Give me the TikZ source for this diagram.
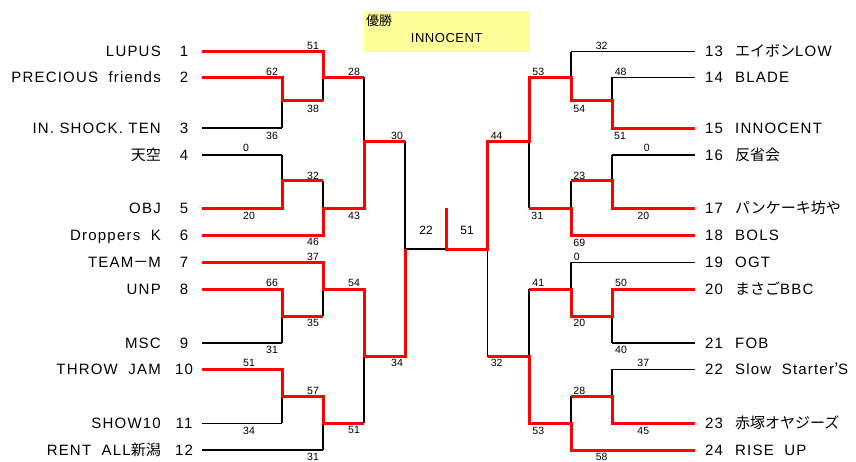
\documentclass[tikz,border=0pt]{standalone}
\usepackage{fontspec}
\setmainfont{Liberation Sans}[LetterSpace=8]
\newfontfamily\jp{Noto Sans CJK JP}
\newfontfamily\numf{Liberation Sans}
\newfontfamily\boxf{Liberation Sans}[LetterSpace=4]
\newcommand{\wsp}{\hspace{0.7em}}
\begin{document}
\begin{tikzpicture}[x=1pt,y=-1pt,
  blk/.style={line width=1.6pt,black},
  win/.style={line width=3pt,red},
  nmL/.style={anchor=base east,inner sep=0pt,font=\fontsize{15}{15}\selectfont},
  nmR/.style={anchor=base west,inner sep=0pt,font=\fontsize{15}{15}\selectfont},
  seed/.style={anchor=base,inner sep=0pt,font=\fontsize{15}{15}\selectfont},
  sc/.style={inner sep=0pt,font=\numf\fontsize{10.5}{10.5}\selectfont},
  scbig/.style={inner sep=0pt,font=\numf\fontsize{12}{12}\selectfont}]
\useasboundingbox (0,0) rectangle (856,461);
% columns
\coordinate (cA) at (202,0);
\coordinate (cB) at (282,0);
\coordinate (cC) at (323,0);
\coordinate (cD) at (364,0);
\coordinate (cE) at (405,0);
\coordinate (cF) at (446,0);
\coordinate (cG) at (487.5,0);
\coordinate (cH) at (529,0);
\coordinate (cI) at (571,0);
\coordinate (cJ) at (612,0);
\coordinate (cK) at (695,0);
% rows
\foreach \n/\y in {r1/51.5,r2/77.3,r3/128,r4/155,r5/208.3,r6/235,r7/262.3,r8/289.3,r9/342.7,r10/369.3,r11/423.3,r12/450,mA/100.7,mB/180.7,mC/316,mD/396,qA/141,qB/356.7,fin/249}
  \coordinate (\n) at (0,\y);
% winner box
\node[fill={rgb,255:red,255;green,255;blue,153},inner sep=0pt,minimum width=166pt,minimum height=40.7pt,anchor=north west] (box) at (364,11) {};
\node[anchor=west,inner sep=0pt,font=\jp\fontsize{13}{13}\selectfont] (yusho) at (366,20.7) {優勝};
\node[inner sep=0pt,font=\boxf\fontsize{13}{13}\selectfont] (champ) at (446.7,38.3) {INNOCENT};
% black structure (both sides)
\foreach \A/\B/\C/\D/\E in {cA/cB/cC/cD/cE,cK/cJ/cI/cH/cG}{
  \draw[blk] (\A|-r1)--(\C|-r1);
  \draw[blk] (\A|-r2)--(\B|-r2);
  \draw[blk] (\A|-r3)--(\B|-r3);
  \draw[blk] (\A|-r4)--(\B|-r4);
  \draw[blk] (\A|-r5)--(\B|-r5);
  \draw[blk] (\A|-r6)--(\C|-r6);
  \draw[blk] (\A|-r7)--(\C|-r7);
  \draw[blk] (\A|-r8)--(\B|-r8);
  \draw[blk] (\A|-r9)--(\B|-r9);
  \draw[blk] (\A|-r10)--(\B|-r10);
  \draw[blk] (\A|-r11)--(\B|-r11);
  \draw[blk] (\A|-r12)--(\C|-r12);
  \draw[blk] (\B|-r2)--(\B|-r3) (\B|-mA)--(\C|-mA) (\C|-r1)--(\C|-mA) (\C|-r2)--(\D|-r2);
  \draw[blk] (\B|-r4)--(\B|-r5) (\B|-mB)--(\C|-mB) (\C|-mB)--(\C|-r6) (\C|-r5)--(\D|-r5);
  \draw[blk] (\D|-r2)--(\D|-r5) (\D|-qA)--(\E|-qA);
  \draw[blk] (\B|-r8)--(\B|-r9) (\B|-mC)--(\C|-mC) (\C|-r7)--(\C|-mC) (\C|-r8)--(\D|-r8);
  \draw[blk] (\B|-r10)--(\B|-r11) (\B|-mD)--(\C|-mD) (\C|-mD)--(\C|-r12) (\C|-r11)--(\D|-r11);
  \draw[blk] (\D|-r8)--(\D|-r11) (\D|-qB)--(\E|-qB);
  \draw[blk] (\E|-qA)--(\E|-qB);
}
\draw[blk] (cE|-fin)--(cF|-fin);
% winners, left
\draw[win] (cA|-r1)--(cC|-r1)--(cC|-r2)--(cD|-r2);
\draw[win] (cA|-r2)--(cB|-r2)--(cB|-mA)--(cC|-mA);
\draw[win] (cA|-r5)--(cB|-r5)--(cB|-mB)--(cC|-mB);
\draw[win] (cA|-r6)--(cC|-r6)--(cC|-r5)--(cD|-r5)--(cD|-qA)--(cE|-qA);
\draw[win] (cA|-r7)--(cC|-r7)--(cC|-r8)--(cD|-r8)--(cD|-qB)--(cE|-qB)--(cE|-fin);
\draw[win] (cA|-r8)--(cB|-r8)--(cB|-mC)--(cC|-mC);
\draw[win] (cA|-r10)--(cB|-r10)--(cB|-mD)--(cC|-mD)--(cC|-r11)--(cD|-r11);
% winners, right
\draw[win] (cK|-r3)--(cJ|-r3)--(cJ|-mA)--(cI|-mA)--(cI|-r2)--(cH|-r2)--(cH|-qA)--(cG|-qA)--(cG|-fin)--(cF|-fin)--(cF|-r5);
\draw[win] (cK|-r5)--(cJ|-r5)--(cJ|-mB)--(cI|-mB);
\draw[win] (cK|-r6)--(cI|-r6)--(cI|-r5)--(cH|-r5);
\draw[win] (cK|-r8)--(cJ|-r8)--(cJ|-mC)--(cI|-mC)--(cI|-r8)--(cH|-r8);
\draw[win] (cK|-r11)--(cJ|-r11)--(cJ|-mD)--(cI|-mD);
\draw[win] (cK|-r12)--(cI|-r12)--(cI|-r11)--(cH|-r11)--(cH|-qB)--(cG|-qB);
% team names and seeds, left
\foreach \i/\y/\t in {1/51.5/LUPUS,2/77.3/PRECIOUS\wsp friends,3/128/IN. SHOCK. TEN,4/155/{\jp 天空},5/208.3/OBJ,6/235/Droppers\wsp K,7/262.3/TEAM{\jp －}M,8/289.3/UNP,9/342.7/MSC,10/369.3/THROW\wsp JAM,11/423.3/SHOW10,12/450/RENT\wsp ALL{\jp 新潟}}{
  \node[nmL] (n\i) at (161,\y+5.4) {\t};
  \node[seed] (s\i) at (184,\y+5.4) {\i};
}
% team names and seeds, right
\foreach \i/\y/\t in {13/51.5/{\jp エイボン}LOW,14/77.3/BLADE,15/128/INNOCENT,16/155/{\jp 反省会},17/208.3/{\jp パンケーキ坊や},18/235/BOLS,19/262.3/OGT,20/289.3/{\jp まさご}BBC,21/342.7/FOB,22/369.3/Slow\wsp Starter{\jp ’}S,23/423.3/{\jp 赤塚オヤジーズ},24/450/RISE\wsp UP}{
  \node[nmR] (n\i) at (735,\y+5.4) {\t};
  \node[seed] (s\i) at (714,\y+5.4) {\i};
}
% scores, left
\foreach \k/\x/\y/\v in {1/313/45.7/51,2/272/71.7/62,3/313/109/38,4/272/135.7/36,5/354/72/28,6/246/148/0,7/313/175.7/32,8/249/215.7/20,9/354/215.7/43,10/397/136/30,11/313/242.3/46,12/313/256.7/37,13/272/283.3/66,14/354/283.3/54,15/313/323.3/35,16/272/350/31,17/397/363.3/34,18/249/363.3/51,19/313/390.7/57,20/249/430.7/34,21/354/430/51,22/313/457.3/31}
  \node[sc] (pl\k) at (\x,\y) {\v};
% scores, right
\foreach \k/\x/\y/\v in {1/601.7/45.7/32,2/620.7/71.7/48,3/579.3/109/54,4/620/135.7/51,5/538.3/71.7/53,6/496.7/136/44,7/646.7/148.3/0,8/579.3/175.7/23,9/643.3/215.7/20,10/537.3/215.7/31,11/579.3/243.3/69,12/576.7/256.7/0,13/621/283.3/50,14/538.3/283.3/41,15/579.3/323.3/20,16/621/350/40,17/643.3/363.3/37,18/496.7/363.3/32,19/579.3/390.7/28,20/643.3/430.7/45,21/538.3/430.7/53,22/601.7/457.3/58}
  \node[sc] (pr\k) at (\x,\y) {\v};
% final scores
\node[scbig] (f1) at (426,230) {22};
\node[scbig] (f2) at (467,230) {51};
\end{tikzpicture}
\end{document}
